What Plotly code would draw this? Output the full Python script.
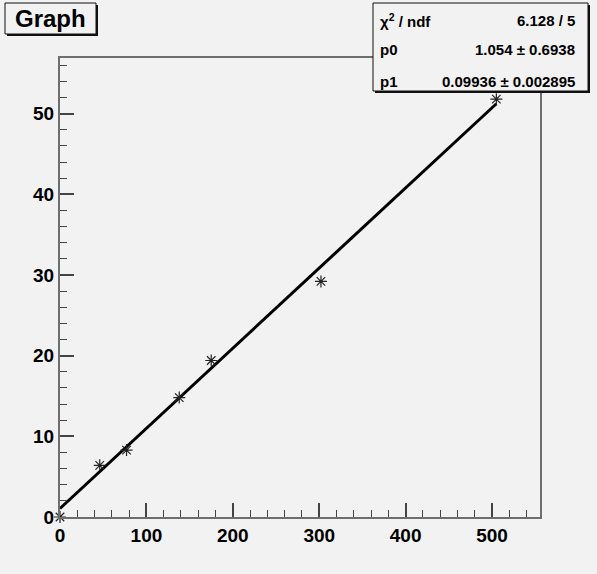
import plotly.graph_objects as go

# data points
x_data = [0, 46, 77, 138, 175, 302, 505]
y_data = [0.0, 6.4, 8.3, 14.8, 19.4, 29.2, 51.8]

# fit parameters (stats box)
p0 = 1.054
p1 = 0.09936
stats_labels = ["χ<sup>2</sup> / ndf", "p0", "p1"]
stats_values = ["6.128 / 5", "1.054 ± 0.6938", "0.09936 ± 0.002895"]

x_range = [0, 555.5]
y_range = [0, 56.9]

W, H = 597, 574
L, R, T, B = 60, 540, 58, 517
pw, ph = R - L, B - T

def px(xp):
    return (xp - L) / pw

def py(yp):
    return (B - yp) / ph

FONT = "Liberation Sans"
BG = "#f2f2f2"

fit_x = [min(x_data), max(x_data)]
fit_y = [p0 + p1 * v for v in fit_x]

fig = go.Figure()
fig.add_trace(go.Scatter(x=fit_x, y=fit_y, mode="lines",
                         line=dict(color="black", width=3), showlegend=False))
fig.add_trace(go.Scatter(x=x_data, y=y_data, mode="markers",
                         marker=dict(symbol="asterisk-open", size=10, color="#222",
                                     line=dict(color="#222", width=1.2)),
                         cliponaxis=False, showlegend=False))

axis_common = dict(showgrid=False, zeroline=False, showline=True, mirror=True,
                   linecolor="#6e6e6e", linewidth=2, ticks="inside",
                   ticklen=14, tickwidth=1.5, tickcolor="#444",
                   tickfont=dict(family=FONT, size=19, color="black", weight="bold"))

fig.update_xaxes(range=x_range, dtick=100, tick0=0,
                 minor=dict(dtick=20, ticks="inside", ticklen=7, tickcolor="#444", tickwidth=1.2),
                 **axis_common)
fig.update_yaxes(range=y_range, dtick=10, tick0=0,
                 minor=dict(dtick=2, ticks="inside", ticklen=7, tickcolor="#444", tickwidth=1.2),
                 **axis_common)

shapes = []
annotations = []

# title box with shadow
tx0, tx1, ty0, ty1 = 5, 96, 3, 34
shapes.append(dict(type="rect", xref="paper", yref="paper",
                   x0=px(tx0 + 2), x1=px(tx1 + 2), y0=py(ty0 + 2), y1=py(ty1 + 2),
                   fillcolor="#111", line=dict(width=0), layer="above"))
shapes.append(dict(type="rect", xref="paper", yref="paper",
                   x0=px(tx0), x1=px(tx1), y0=py(ty0), y1=py(ty1),
                   fillcolor=BG, line=dict(color="#111", width=1), layer="above"))
annotations.append(dict(xref="paper", yref="paper", x=px((tx0 + tx1) / 2), y=py((ty0 + ty1) / 2),
                        text="Graph", showarrow=False, xanchor="center", yanchor="middle",
                        font=dict(family=FONT, size=24, color="black", weight="bold")))

# stats box with shadow
sx0, sx1, sy0, sy1 = 373, 588, 3, 91
shapes.append(dict(type="rect", xref="paper", yref="paper",
                   x0=px(sx0 + 2), x1=px(sx1 + 2), y0=py(sy0 + 2), y1=py(sy1 + 2),
                   fillcolor="#111", line=dict(width=0), layer="above"))
shapes.append(dict(type="rect", xref="paper", yref="paper",
                   x0=px(sx0), x1=px(sx1), y0=py(sy0), y1=py(sy1),
                   fillcolor=BG, line=dict(color="#111", width=1), layer="above"))
row_y = [20, 50, 81]
for lab, val, ry in zip(stats_labels, stats_values, row_y):
    annotations.append(dict(xref="paper", yref="paper", x=px(378), y=py(ry), text=lab,
                            showarrow=False, xanchor="left", yanchor="middle",
                            font=dict(family=FONT, size=15, color="black", weight="bold")))
    annotations.append(dict(xref="paper", yref="paper", x=px(577), y=py(ry), text=val,
                            showarrow=False, xanchor="right", yanchor="middle",
                            font=dict(family=FONT, size=15, color="black", weight="bold")))

fig.update_layout(width=W, height=H,
                  margin=dict(l=L, r=W - R, t=T, b=H - B, pad=0),
                  paper_bgcolor=BG, plot_bgcolor=BG,
                  shapes=shapes, annotations=annotations, showlegend=False)

fig.write_html("out.html")
